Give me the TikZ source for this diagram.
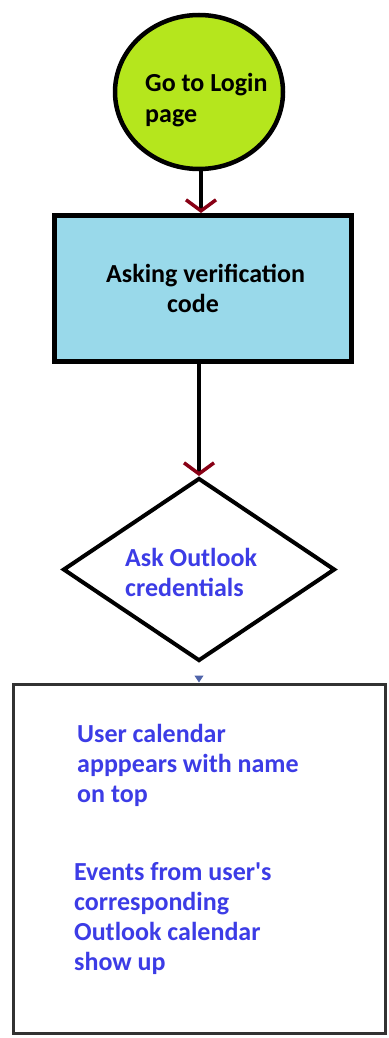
\documentclass[tikz,border=0pt]{standalone}
\usepackage{fontspec}
\setmainfont{Carlito}
\usetikzlibrary{shapes.geometric,arrows.meta}
\definecolor{limefill}{RGB}{181,230,29}
\definecolor{boxfill}{RGB}{153,217,234}
\definecolor{arrowred}{RGB}{136,0,21}
\definecolor{textblue}{RGB}{60,60,230}
\definecolor{tipblue}{RGB}{80,100,170}
\definecolor{framegray}{RGB}{50,50,50}
\begin{document}
\begin{tikzpicture}[x=1pt,y=-1pt,
  shapeline/.style={draw=black,line width=4.5pt,inner sep=0pt},
  lbl/.style={anchor=base west,inner sep=0pt,font=\fontsize{26}{30}\selectfont\bfseries},
  flow/.style={line width=4.5pt,-{Straight Barb[color=arrowred,length=11pt,width=30pt,line width=3.5pt]}}]
\useasboundingbox[fill=white] (0,0) rectangle (388,1038);

% shapes
\node[shapeline,ellipse,fill=limefill,minimum width=168pt,minimum height=154pt] (start) at (199,92) {};
\node[shapeline,rectangle,fill=boxfill,minimum width=297pt,minimum height=146pt,line width=5pt] (ask) at (203,288.5) {};
\node[shapeline,diamond,line width=4pt,minimum width=272pt,minimum height=183pt] (dec) at (199,569.5) {};
\node[draw=framegray,line width=3pt,rectangle,minimum width=372pt,minimum height=349pt,inner sep=0pt] (cal) at (199,858.5) {};

% labels
\node[lbl] (g1) at (145,92) {Go to Login};
\node[lbl] (g2) at (145,122) {page};
\node[lbl] (a1) at (106,282) {Asking verification};
\node[lbl] (a2) at (167,312) {code};
\node[lbl,text=textblue] (d1) at (125,566) {Ask Outlook};
\node[lbl,text=textblue] (d2) at (125,596) {credentials};
\node[lbl,text=textblue] (u1) at (77,742) {User calendar};
\node[lbl,text=textblue] (u2) at (77,772) {apppears with name};
\node[lbl,text=textblue] (u3) at (77,802) {on top};
\node[lbl,text=textblue] (e1) at (74,880) {Events from user\textquotesingle s};
\node[lbl,text=textblue] (e2) at (74,910) {corresponding};
\node[lbl,text=textblue] (e3) at (74,940) {Outlook calendar};
\node[lbl,text=textblue] (e4) at (74,970) {show up};

% connectors
\draw[flow] ([xshift=2pt]start.south) -- ([xshift=2pt]start.south |- ask.north);
\draw[flow] (dec.north |- ask.south) -- (dec.north);
\draw[tipblue,line width=1pt,shorten <=13pt,-{Triangle[length=7pt,width=9pt]}] (dec.south) -- (cal.north);
\end{tikzpicture}
\end{document}
